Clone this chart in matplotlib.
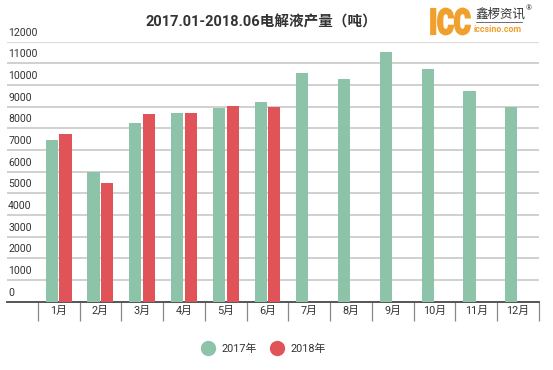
import matplotlib.pyplot as plt
import matplotlib.transforms as mtransforms
from matplotlib.lines import Line2D
from matplotlib.textpath import TextPath
from matplotlib.patches import PathPatch
from matplotlib.font_manager import FontProperties
import numpy as np

plt.rcParams['font.family'] = ['Roboto', 'Noto Sans CJK SC', 'DejaVu Sans']

months = ['1月', '2月', '3月', '4月', '5月', '6月', '7月', '8月', '9月', '10月', '11月', '12月']
y2017 = [7450, 6000, 8250, 8730, 8950, 9200, 10570, 10300, 11520, 10720, 9720, 9000]
y2018 = [7750, 5500, 8680, 8720, 9030, 9000]
yticks = list(range(0, 13000, 1000))

green = '#8cc3a9'
red = '#e05359'
orange = '#f0a02c'

fig = plt.figure(figsize=(5.53, 3.70), dpi=100)
ax = fig.add_axes([0.0121, 0.1846, 0.9626, 0.7027])

x = np.arange(len(months))
w = 0.29
ax.bar(x - 0.165, y2017, w, color=green, zorder=3)
ax.bar(np.arange(len(y2018)) + 0.165, y2018, w, color=red, zorder=3)

ax.set_xlim(-1.243, 11.5)
ax.set_ylim(0, 12000)

# gridlines, labels sit above the lines
for v in yticks:
    if v == 0:
        continue
    ax.axhline(v, color='#c4c4c4' if v < 12000 else '#dcdcdc',
               lw=1.1 if v < 12000 else 1.6, zorder=1)
trans = mtransforms.blended_transform_factory(ax.transAxes, ax.transData)
for v in yticks:
    ax.annotate(str(v), xy=(0, v), xycoords=trans, xytext=(1, 3),
                textcoords='offset points', ha='left', va='bottom',
                fontsize=7.6, color='#333333')

for s in ['top', 'right', 'left']:
    ax.spines[s].set_visible(False)
ax.spines['bottom'].set_color('#555555')
ax.spines['bottom'].set_linewidth(1.4)
ax.set_yticks([])

# category separators below the axis
ax.set_xticks(np.arange(-0.5, 12, 1))
ax.set_xticklabels([])
ax.tick_params(axis='x', which='major', length=14, width=0.9, color='#888888')
ax.set_xticks(x, minor=True)
ax.set_xticklabels(months, minor=True)
ax.tick_params(axis='x', which='minor', length=0, pad=3, labelsize=7.8,
               labelcolor='#333333')

fig.text(0.472, 0.94, '2017.01-2018.06电解液产量（吨）', ha='center', va='center',
         fontsize=10.5, fontweight='bold', color='#333333')

# logo: condensed heavy "ICC" drawn as a scaled text path (pixel coords)
tp = TextPath((0, 0), 'ICC', size=1, prop=FontProperties(family='Roboto', weight=900))
ext = tp.get_extents()
sx = 39 / ext.width
sy = 26 / ext.height
logo_tr = mtransforms.Affine2D().translate(-ext.x0, -ext.y0).scale(sx, sy).translate(431, 335.5)
fig.add_artist(PathPatch(tp, transform=logo_tr, facecolor=orange, edgecolor=orange,
                         lw=1.3, joinstyle='miter'))
fig.text(0.859, 0.963, '鑫椤资讯', ha='left', va='center', fontsize=9,
         color='#333333', family=['Noto Sans CJK SC'])
fig.add_artist(Line2D([0.861, 0.944], [0.941, 0.941], transform=fig.transFigure,
                      color='#555555', lw=0.6))
fig.text(0.944, 0.919, 'iccsino.com', ha='right', va='center', fontsize=6.4,
         color=orange, fontweight='bold')
fig.text(0.950, 0.978, '®', ha='left', va='center', fontsize=5.5, color='#333333')

handles = [Line2D([], [], marker='o', ls='', markersize=10, color=green),
           Line2D([], [], marker='o', ls='', markersize=10, color=red)]
fig.legend(handles, ['2017年', '2018年'], loc='center', bbox_to_anchor=(0.473, 0.057),
           ncol=2, frameon=False, fontsize=7.8, handletextpad=0.3,
           columnspacing=0.8, labelcolor='#333333')

fig.savefig('out.png', dpi=100)
